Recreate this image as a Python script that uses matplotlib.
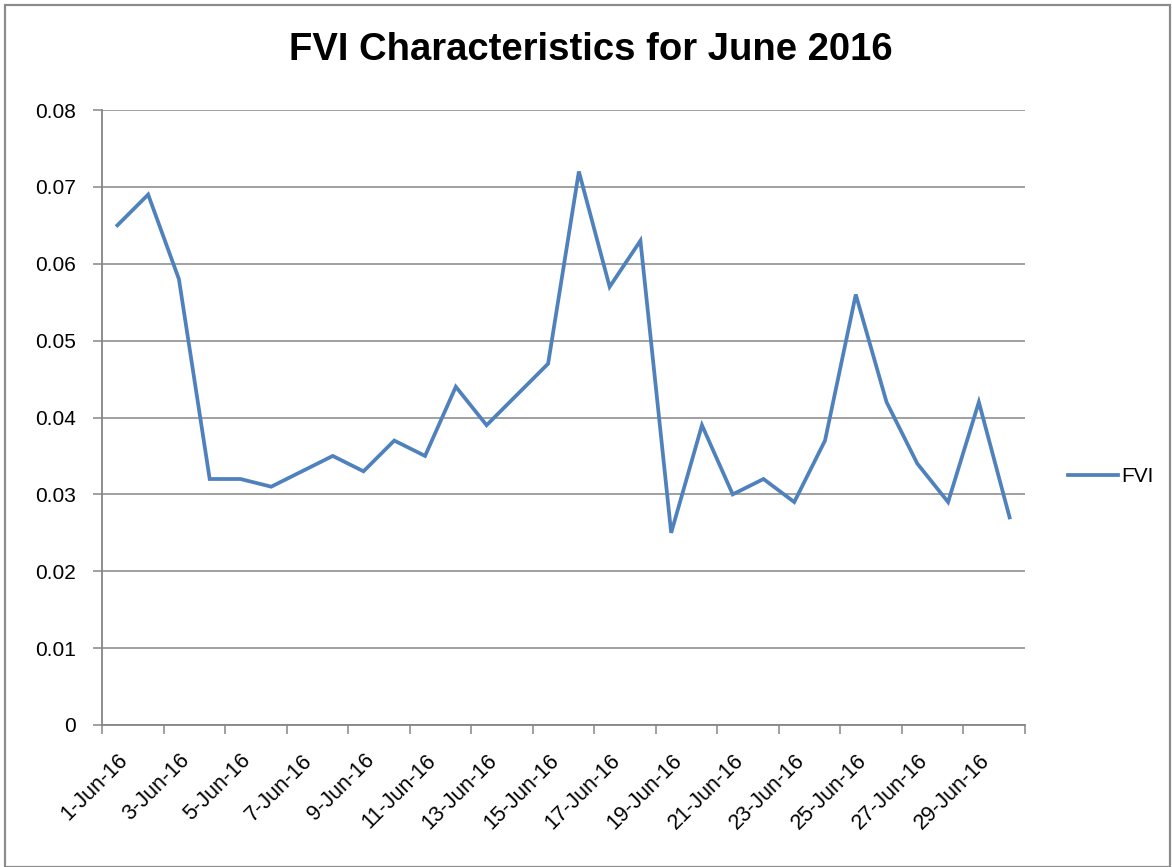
import matplotlib
matplotlib.use("Agg")
import matplotlib.pyplot as plt
from matplotlib.patches import Rectangle

days = list(range(1, 31))
labels = [f"{d}-Jun-16" for d in days]
fvi = [0.065, 0.069, 0.058, 0.032, 0.032, 0.031, 0.033, 0.035, 0.033, 0.037,
       0.035, 0.044, 0.039, 0.043, 0.047, 0.072, 0.057, 0.063, 0.025, 0.039,
       0.030, 0.032, 0.029, 0.037, 0.056, 0.042, 0.034, 0.029, 0.042, 0.027]
yticks = [0, 0.01, 0.02, 0.03, 0.04, 0.05, 0.06, 0.07, 0.08]
ytick_labels = ["0", "0.01", "0.02", "0.03", "0.04", "0.05", "0.06", "0.07", "0.08"]

FONT = ["Liberation Sans", "DejaVu Sans"]
plt.rcParams["font.family"] = FONT

W, H = 1172, 867
fig = plt.figure(figsize=(W / 100, H / 100), dpi=100)
ax = fig.add_axes([102 / W, 1 - 725 / H, (1025 - 102) / W, (725 - 110) / H])

x = list(range(len(fvi)))
ax.plot(x, fvi, color="#4F81BD", lw=2.7, solid_joinstyle="miter", label="FVI")

ax.set_xlim(-0.5, len(fvi) - 0.5)
ax.set_ylim(0, 0.08)
ax.set_yticks(yticks)
ax.set_yticklabels(ytick_labels, fontsize=15)
ax.yaxis.grid(True, color="#868686", lw=1.1)
ax.set_axisbelow(True)

ax.set_xticks([i - 0.5 for i in range(0, len(fvi) + 1, 2)])
ax.set_xticklabels([])
ax.set_xticks(list(range(0, len(fvi), 2)), minor=True)
ax.set_xticklabels(labels[::2], minor=True, rotation=45, ha="right", va="top",
                   rotation_mode="anchor", fontsize=15.5)
ax.tick_params(axis="x", which="minor", length=0, pad=18)
ax.tick_params(axis="x", which="major", length=6.5, width=1.1, color="#868686")
ax.tick_params(axis="y", length=6.5, width=1.1, color="#868686", pad=12)

for s in ["top", "right"]:
    ax.spines[s].set_visible(False)
for s in ["left", "bottom"]:
    ax.spines[s].set_color("#868686")
    ax.spines[s].set_linewidth(1.3)

fig.text(591 / W, 1 - 50 / H, "FVI Characteristics for June 2016", ha="center",
         va="center", fontsize=27.5, fontweight="bold")

fig.legend(loc="center left", bbox_to_anchor=(1058 / W, 1 - 477 / H), frameon=False,
           fontsize=15, handlelength=2.4, handletextpad=0.15, borderpad=0)

fig.patches.append(Rectangle((5 / W, 0), (W - 7) / W, 1 - 5 / H, transform=fig.transFigure,
                             fill=False, edgecolor="#8c8c8c", lw=1.6))

fig.savefig("out.png", dpi=100, facecolor="white")
